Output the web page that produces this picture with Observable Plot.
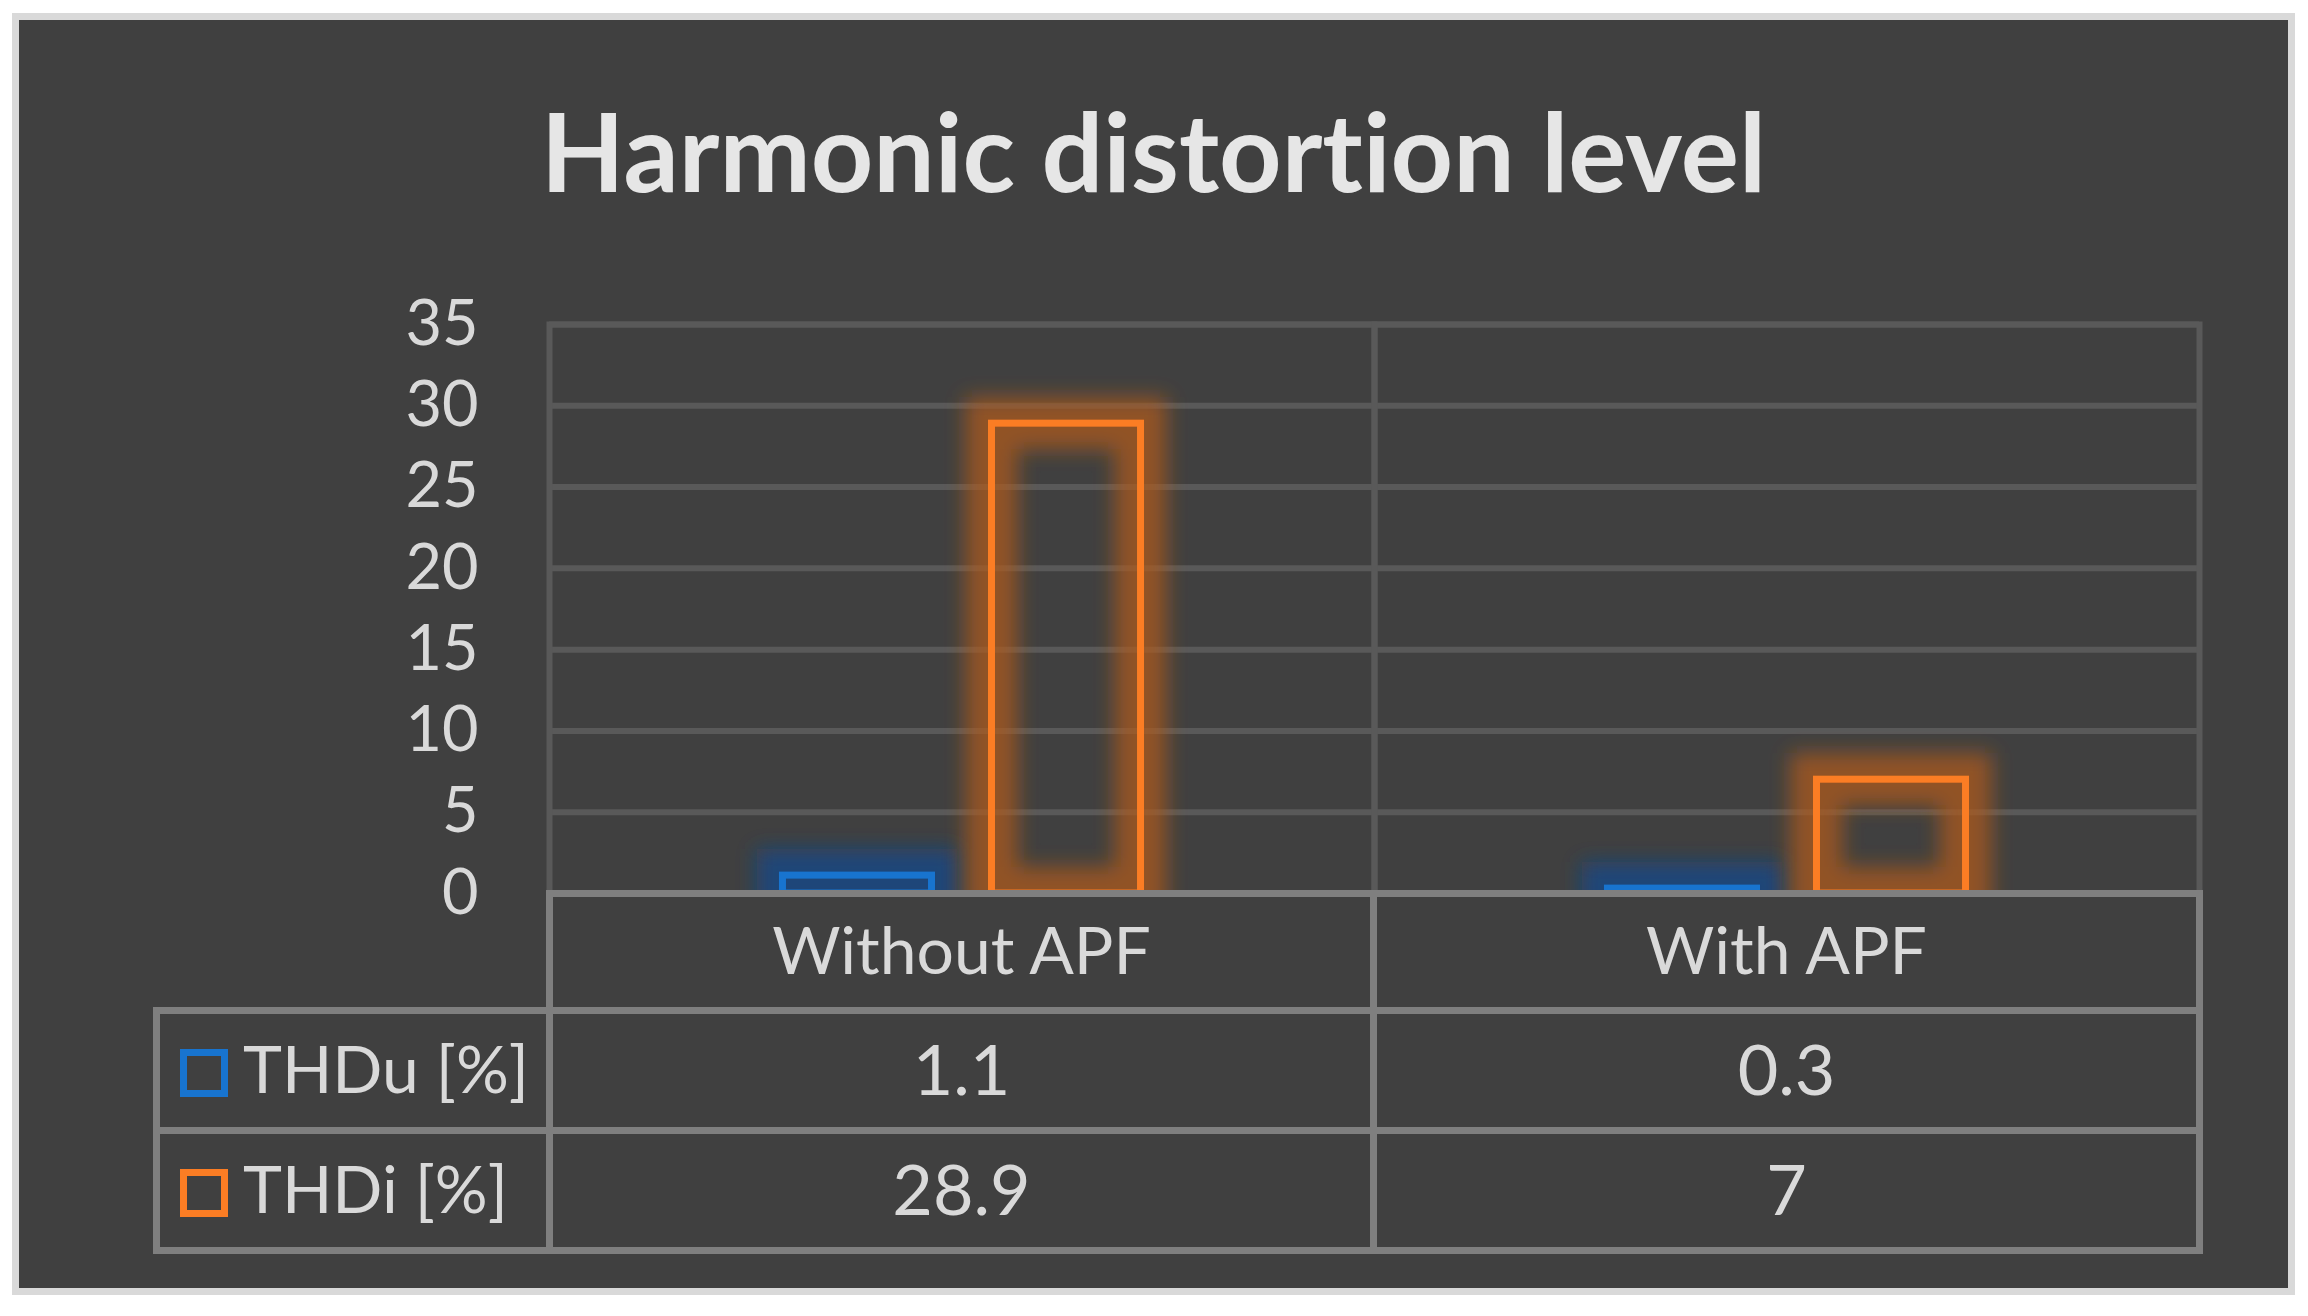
<!DOCTYPE html>
<html><head><meta charset="utf-8">
<script src="https://cdn.jsdelivr.net/npm/d3@7"></script>
<script src="https://cdn.jsdelivr.net/npm/@observablehq/plot@0.6"></script>
<style>
html,body{margin:0;padding:0;background:#fff;width:2308px;height:1316px;overflow:hidden;font-family:Lato,"Open Sans",sans-serif;font-variant-ligatures:none;}
#frame{position:absolute;left:12px;top:13px;width:2283px;height:1282px;box-sizing:border-box;border:7px solid #d9d9d9;background:#404040;}
#title{position:absolute;left:19px;width:2269px;top:95px;text-align:center;font-weight:700;font-size:109px;font-family:Lato;color:#e6e6e6;line-height:109px;white-space:nowrap;font-variant-ligatures:none;}
#chart{position:absolute;left:0;top:240px;}
#chart svg{overflow:visible;}
#tbl{position:absolute;left:153px;top:890px;width:2043px;border-collapse:collapse;table-layout:fixed;color:#d9d9d9;font-family:Lato;font-size:70px;}
#tbl td{border:7px solid #7f7f7f;padding:0 0 6px 0;text-align:center;vertical-align:middle;line-height:1;white-space:nowrap;}
#tbl td.hdr{font-size:66px;}
#tbl td.empty{border-top:none;border-left:none;}
#tbl td.leg{text-align:left;padding-left:20px;font-size:66px;}
#tbl .sw{display:inline-block;width:34px;height:34px;border:7px solid;margin-right:15px;position:relative;top:-3px;vertical-align:middle;}
</style></head>
<body>
<div id="frame"></div>
<div id="title">Harmonic distortion level</div>
<div id="chart"></div>
<table id="tbl"></table>
<script>
const categories = ["Without APF", "With APF"];
const series = ["THDu [%]", "THDi [%]"];
const thdu = [1.1, 0.3];
const thdi = [28.9, 7];
const yTicks = [0, 5, 10, 15, 20, 25, 30, 35];
const colors = ["#1874cf", "#fb7d24"];
const glowColors = ["#0d4a8f", "#b05a1c"];

const values = [thdu, thdi];
const rows = categories.flatMap((c, i) => series.map((s, j) => ({cat: c, series: s, value: values[j][i]})));

const glowMarks = series.map((s, j) => Plot.barY(rows, {
  filter: d => d.series === s, x: "series", y: "value",
  fill: "none", stroke: glowColors[j], strokeWidth: 52, strokeOpacity: 0.72
}));
const barMarks = series.map((s, j) => Plot.barY(rows, {
  filter: d => d.series === s, x: "series", y: "value",
  fill: "none", stroke: colors[j], strokeWidth: 7
}));

const H = 657, MT = 84, MB = 4;
const plot = Plot.plot({
  width: 2308, height: H,
  marginLeft: 549, marginRight: 109, marginTop: MT, marginBottom: MB,
  style: {background: "transparent", color: "#d9d9d9", fontFamily: "Lato", fontSize: "63px"},
  facet: {data: rows, x: "cat"},
  fx: {domain: categories, padding: 0, axis: null, label: null},
  x: {domain: series, paddingInner: 0.287, paddingOuter: 1.117, round: false, axis: null},
  y: {domain: [0, 35], ticks: yTicks, tickSize: 0, tickPadding: 71, label: null},
  marks: [
    Plot.ruleY(yTicks, {stroke: "#595959", strokeWidth: 6}),
    Plot.frame({stroke: "#595959", strokeWidth: 6}),
    ...glowMarks,
    ...barMarks
  ]
});

const svg = d3.select(plot);
const defs = svg.insert("defs", ":first-child");
const f = defs.append("filter").attr("id", "glow").attr("filterUnits", "userSpaceOnUse")
  .attr("x", -3000).attr("y", -3000).attr("width", 8000).attr("height", 3000 + H - MB);
f.append("feGaussianBlur").attr("stdDeviation", 10);
svg.selectAll('g[stroke-width="52"]').attr("filter", "url(#glow)");
document.getElementById("chart").appendChild(plot);

// data table below the plot
let html = '<colgroup><col style="width:393px"><col style="width:824px"><col style="width:826px"></colgroup>';
html += '<tr style="height:117px"><td class="empty"></td>' + categories.map(c => `<td class="hdr">${c}</td>`).join("") + '</tr>';
series.forEach((s, j) => {
  html += `<tr style="height:120px"><td class="leg"><span class="sw" style="border-color:${colors[j]}"></span>${s}</td>` +
    values[j].map(v => `<td>${v}</td>`).join("") + '</tr>';
});
document.getElementById("tbl").innerHTML = html;
</script>
</body></html>
